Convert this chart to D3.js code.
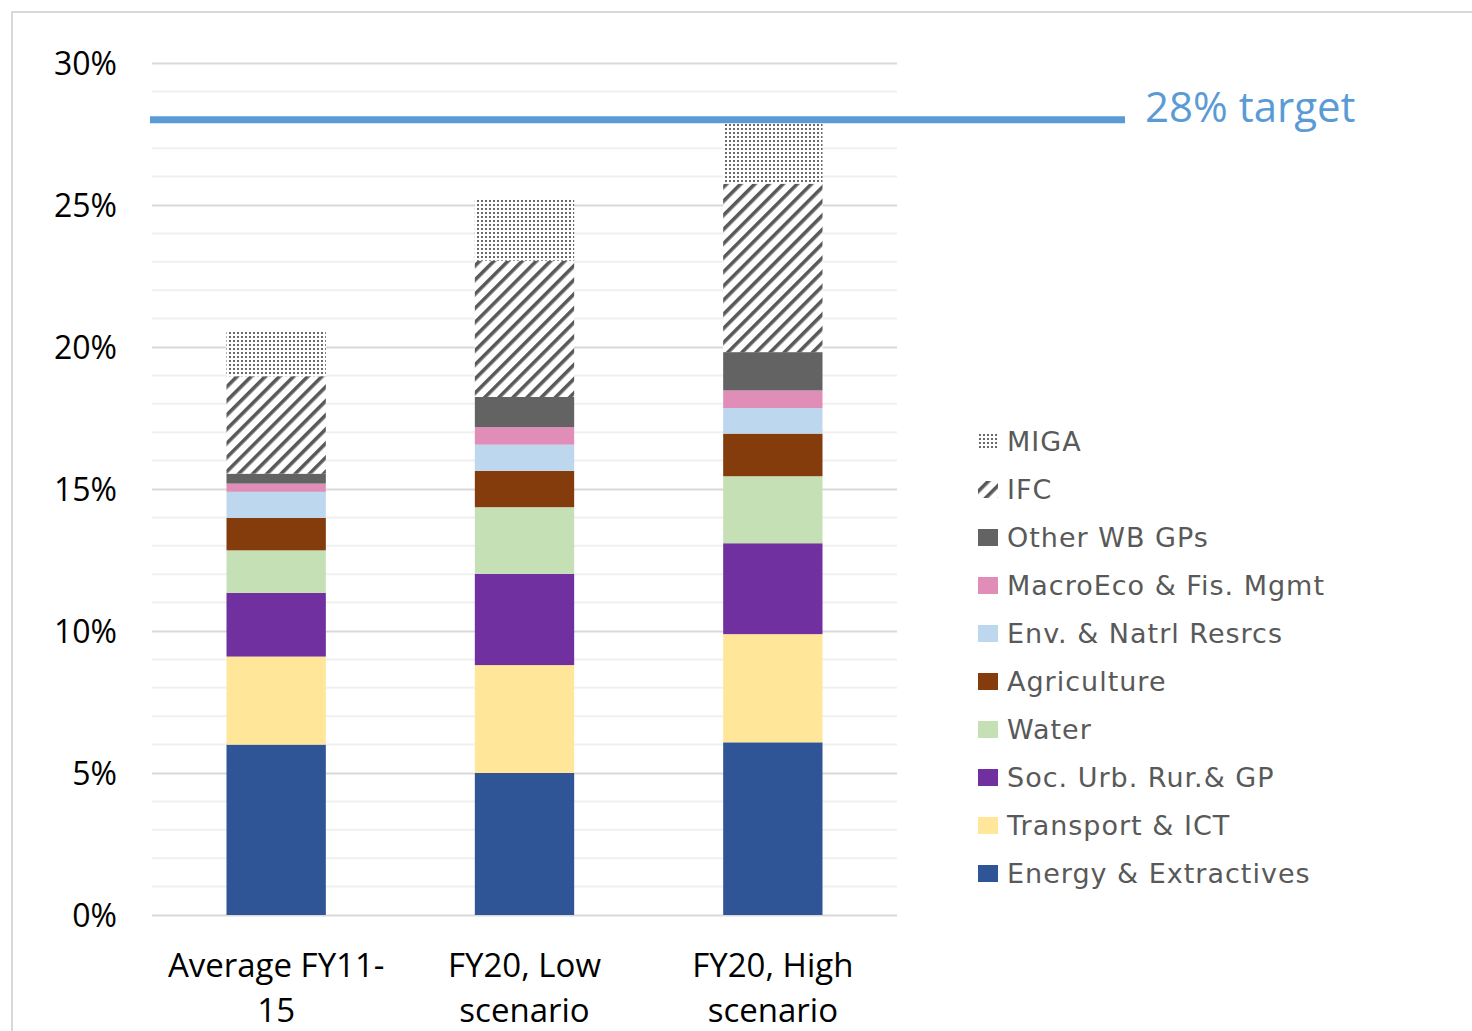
<!DOCTYPE html>
<html>
<head>
<meta charset="utf-8">
<script src="https://cdn.jsdelivr.net/npm/d3@7"></script>
<style>
	body { margin: 0; background: #fff; }
	svg text { font-family: "Open Sans", Lato, "Liberation Sans", sans-serif; }
	.legend text { font-family: "DejaVu Sans", Verdana, sans-serif; }
</style>
</head>
<body>
<div id="chart"></div>
<script>

var categories = ["Average FY11-15", "FY20, Low scenario", "FY20, High scenario"]
var categoryLines = [["Average FY11-", "15"], ["FY20, Low", "scenario"], ["FY20, High", "scenario"]]

var series = ["Energy & Extractives", "Transport & ICT", "Soc. Urb. Rur.& GP", "Water", "Agriculture",
	"Env. & Natrl Resrcs", "MacroEco & Fis. Mgmt", "Other WB GPs", "IFC", "MIGA"]

// % of commitments, bottom to top, one array per bar
var avgFY11_15 = [6.0, 3.10, 2.24, 1.50, 1.14, 0.92, 0.29, 0.35, 3.43, 1.56]
var fy20Low    = [5.0, 3.80, 3.21, 2.35, 1.28, 0.92, 0.62, 1.06, 4.80, 2.15]
var fy20High   = [6.08, 3.81, 3.20, 2.36, 1.50, 0.90, 0.62, 1.35, 5.93, 2.11]

var yTicks = [0, 5, 10, 15, 20, 25, 30]
var target = 28
var targetLabel = "28% target"

var colors = {
	"Energy & Extractives": "#2f5597",
	"Transport & ICT": "#ffe699",
	"Soc. Urb. Rur.& GP": "#7030a0",
	"Water": "#c5e0b4",
	"Agriculture": "#843c0c",
	"Env. & Natrl Resrcs": "#bdd7ee",
	"MacroEco & Fis. Mgmt": "#e08eb8",
	"Other WB GPs": "#636363",
	"IFC": "url(#stripes)",
	"MIGA": "url(#dots)"
}

var width = 1472, height = 1031

var svg = d3.select("#chart").append("svg")
	.attr("width", width)
	.attr("height", height)

var defs = svg.append("defs")

var stripes = defs.append("pattern")
	.attr("id", "stripes")
	.attr("patternUnits", "userSpaceOnUse")
	.attr("width", 10).attr("height", 10)
	.attr("patternTransform", "rotate(45)")
stripes.append("rect").attr("width", 10).attr("height", 10).attr("fill", "#fff")
stripes.append("rect").attr("x", 0).attr("width", 3.6).attr("height", 10).attr("fill", "#595959")

var dots = defs.append("pattern")
	.attr("id", "dots")
	.attr("patternUnits", "userSpaceOnUse")
	.attr("width", 4).attr("height", 4)
dots.append("rect").attr("width", 4).attr("height", 4).attr("fill", "#fff")
dots.append("rect").attr("x", 1).attr("y", 1).attr("width", 2).attr("height", 2).attr("fill", "#6a6a6a")

// outer frame
svg.append("path")
	.attr("d", "M12,1031 V12 H1472")
	.attr("fill", "none")
	.attr("stroke", "#d9d9d9")
	.attr("stroke-width", 2)

var margin = {top: 63, left: 152, right: 575, bottom: 116}
var plotW = width - margin.left - margin.right
var plotH = height - margin.top - margin.bottom

var g = svg.append("g").attr("transform", "translate(" + margin.left + "," + margin.top + ")")

var x = d3.scaleBand().domain(categories).range([0, plotW]).paddingInner(0.6).paddingOuter(0.3)
var y = d3.scaleLinear().domain([0, 30]).range([plotH, 0])

// minor gridlines every 1%
g.append("g").selectAll("line")
	.data(d3.range(1, 30).filter(function(d) { return d % 5 != 0 }))
	.enter().append("line")
	.attr("x1", 0).attr("x2", plotW)
	.attr("y1", function(d) { return y(d) }).attr("y2", function(d) { return y(d) })
	.attr("stroke", "#f0f0f0").attr("stroke-width", 2)

var yAxis = d3.axisLeft(y).tickValues(yTicks).tickSize(-plotW).tickPadding(35)
	.tickFormat(function(d) { return d + "%" })

g.append("g")
	.attr("class", "y grid")
	.call(yAxis)
	.call(function(a) {
		a.select(".domain").remove()
		a.selectAll(".tick line").attr("stroke", "#d9d9d9").attr("stroke-width", 2)
		a.selectAll(".tick text").attr("font-size", 32).attr("fill", "#000").attr("dy", "0.36em")
			.style("font-family", "'Open Sans', Lato, sans-serif")
	})

var table = categories.map(function(c, i) {
	var vals = [avgFY11_15, fy20Low, fy20High][i]
	var row = {cat: c}
	series.forEach(function(s, j) { row[s] = vals[j] })
	return row
})

var stacked = d3.stack().keys(series)(table)

g.selectAll(".layer")
	.data(stacked)
	.enter().append("g")
	.attr("class", "layer")
	.attr("fill", function(d) { return colors[d.key] })
	.selectAll("rect")
	.data(function(d) { return d })
	.enter().append("rect")
	.attr("x", function(d) { return x(d.data.cat) })
	.attr("width", x.bandwidth())
	.attr("y", function(d) { return y(d[1]) })
	.attr("height", function(d) { return y(d[0]) - y(d[1]) })

// category labels
var xl = g.append("g").selectAll("text")
	.data(categories)
	.enter().append("text")
	.attr("text-anchor", "middle")
	.attr("font-size", 33)
	.attr("fill", "#000")
	.attr("x", function(d) { return x(d) + x.bandwidth() / 2 })
	.attr("y", plotH + 62)

xl.each(function(d, i) {
	var t = d3.select(this)
	categoryLines[i].forEach(function(line, k) {
		t.append("tspan")
			.attr("x", x(d) + x.bandwidth() / 2)
			.attr("dy", k == 0 ? 0 : 45)
			.text(line)
	})
})

// target line
g.append("line")
	.attr("x1", -2).attr("x2", 973)
	.attr("y1", y(target)).attr("y2", y(target))
	.attr("stroke", "#5b9bd5").attr("stroke-width", 7)

g.append("text")
	.attr("x", 993)
	.attr("y", y(target) + 2)
	.attr("font-size", 42)
	.attr("fill", "#5b9bd5")
	.text(targetLabel)

// legend, top = last series
var legend = svg.append("g").attr("class", "legend")
	.attr("transform", "translate(978,441)")

var items = legend.selectAll("g")
	.data(series.slice().reverse())
	.enter().append("g")
	.attr("transform", function(d, i) { return "translate(0," + (i * 48) + ")" })

items.append("rect")
	.attr("x", 0).attr("y", -8)
	.attr("width", 20).attr("height", 17)
	.attr("fill", function(d) { return colors[d] })

items.append("text")
	.attr("x", 29)
	.attr("y", 1)
	.attr("dy", "0.35em")
	.attr("font-size", 27)
	.attr("letter-spacing", 1.0)
	.attr("fill", "#595959")
	.text(function(d) { return d })

</script>
</body>
</html>
